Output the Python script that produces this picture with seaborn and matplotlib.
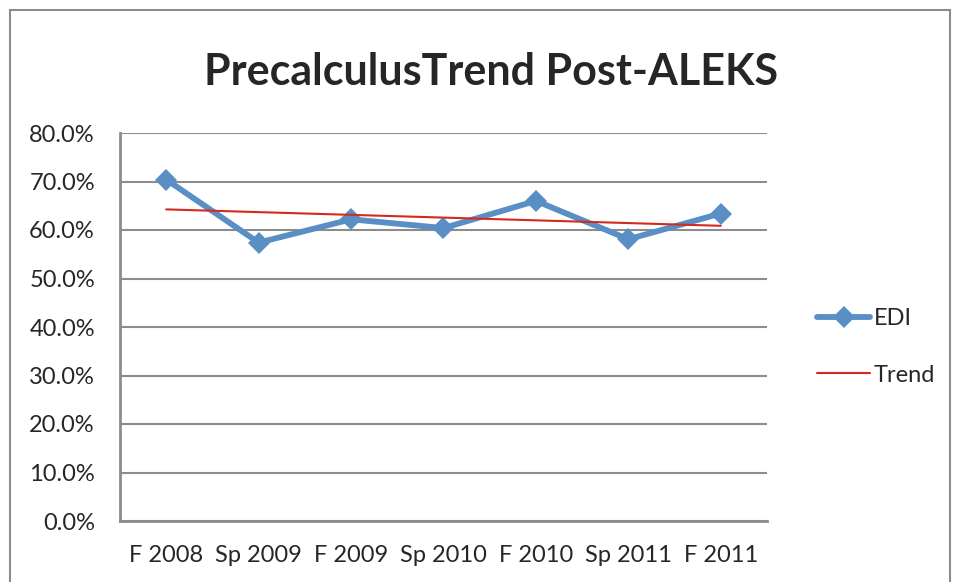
import numpy as np
import pandas as pd
import matplotlib
matplotlib.use('Agg')
import matplotlib.pyplot as plt
import seaborn as sns
from matplotlib.patches import Rectangle

terms = ["F 2008", "Sp 2009", "F 2009", "Sp 2010", "F 2010", "Sp 2011", "F 2011"]
edi = [70.4, 57.4, 62.2, 60.4, 66.0, 58.1, 63.4]

df = pd.DataFrame({"term": terms, "pos": range(len(terms)), "EDI": edi})

# linear trend line fitted to the series
coef = np.polyfit(df["pos"], df["EDI"], 1)
df["Trend"] = np.polyval(coef, df["pos"])

sns.set_style("white")
plt.rcParams['font.family'] = ['Lato', 'DejaVu Sans']

fig = plt.figure(figsize=(9.58, 5.82), dpi=100)
ax = fig.add_axes([120/958, 1 - 521/582, (767-120)/958, (521-133)/582])

sns.lineplot(data=df, x="pos", y="EDI", ax=ax, color="#5a8fc6", lw=4.2,
             marker="D", markersize=11, markeredgewidth=0, label="EDI")
sns.lineplot(data=df, x="pos", y="Trend", ax=ax, color="#d42a1c", lw=1.5, label="Trend")

ax.set_xlim(-0.5, 6.5)
ax.set_ylim(0, 80)
ax.set_yticks(range(0, 81, 10))
ax.set_yticklabels([f"{v:.1f}%" for v in range(0, 81, 10)], fontsize=17)
ax.set_xticks(df["pos"])
ax.set_xticklabels(terms, fontsize=17)
ax.set_xlabel("")
ax.set_ylabel("")
ax.grid(axis="y", color="#8c8c8c", lw=1.5)
ax.set_axisbelow(True)
for s in ["top", "right"]:
    ax.spines[s].set_visible(False)
for s in ["left", "bottom"]:
    ax.spines[s].set_color("#8c8c8c")
    ax.spines[s].set_linewidth(2)
ax.tick_params(axis="y", length=0, pad=18)
ax.tick_params(axis="x", length=0, pad=17)

leg = ax.legend(loc="center left", bbox_to_anchor=(796/958, 1 - 347/582),
                bbox_transform=fig.transFigure, frameon=False, fontsize=17,
                handlelength=2.25, handletextpad=0.15, labelspacing=1.5)

fig.text(491/958, 1 - 72/582, "PrecalculusTrend Post-ALEKS", ha="center", va="center",
         fontsize=31, fontweight="bold")

fig.patches.append(Rectangle((10/958, -0.02), 940/958, 1 - 10/582 + 0.02,
                             transform=fig.transFigure, fill=False,
                             edgecolor="#8c8c8c", lw=1.5))

fig.savefig("out.png", dpi=100)
